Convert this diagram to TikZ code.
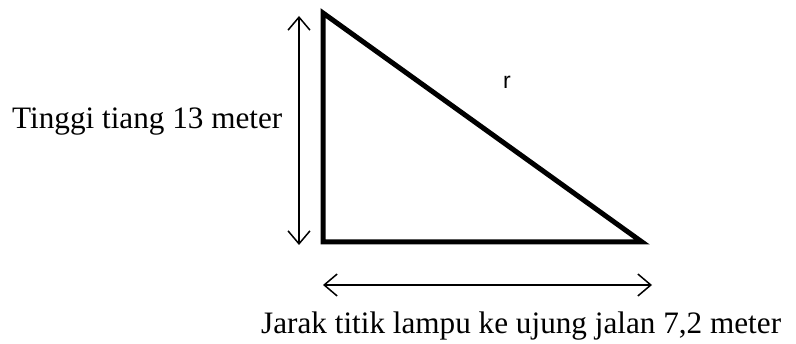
\documentclass[tikz,border=0pt]{standalone}
\usepackage{fontspec}
\setmainfont{Liberation Serif}
\newfontfamily\arialfont{Liberation Sans}
\usetikzlibrary{arrows.meta}
\tikzset{
  tri/.style={line width=5pt, line join=miter},
  dim/.style={line width=1.5pt, {Straight Barb[length=13pt,width=22pt,line width=1.5pt]}-{Straight Barb[length=13pt,width=22pt,line width=1.5pt]}},
  lbl/.style={inner sep=0pt, font=\fontsize{31.2}{37}\selectfont},
}
\begin{document}
\begin{tikzpicture}[x=1pt,y=-1pt]
\useasboundingbox (0,0) rectangle (796,344);
\coordinate (A) at (323,13);
\coordinate (B) at (323,242);
\coordinate (C) at (642,242);
\draw[tri] (A) -- (B) -- (C) -- cycle;
\coordinate (v1) at (299,16);
\coordinate (v2) at (299,245);
\draw[dim] (v1) -- (v2);
\coordinate (h1) at (323,285);
\coordinate (h2) at (652,285);
\draw[dim] (h1) -- (h2);
\node[lbl, anchor=base west] (tinggi) at (12,129) {Tinggi tiang 13 meter};
\node[lbl, anchor=base west] (jarak) at (261,334) {Jarak titik lampu ke ujung jalan 7,2 meter};
\node[inner sep=0pt, anchor=base, font=\arialfont\fontsize{23}{28}\selectfont] (r) at (507,89) {r};
\end{tikzpicture}
\end{document}
